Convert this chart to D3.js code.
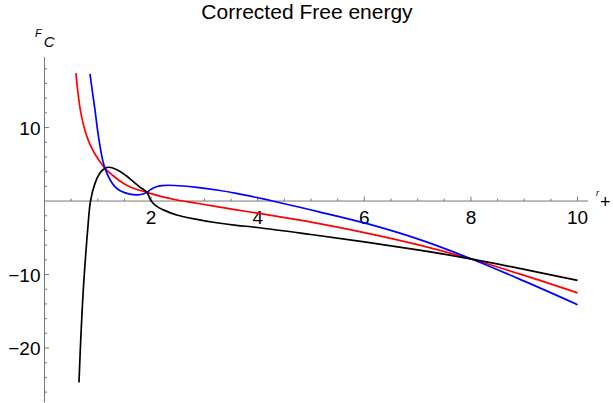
<!DOCTYPE html>
<html>
<head>
<meta charset="utf-8">
<script src="https://cdn.jsdelivr.net/npm/d3@7"></script>
<style>
  body { margin: 0; background: #fff; }
  text { font-family: "Liberation Sans", Arial, sans-serif; }
</style>
</head>
<body>
<div id="chart"></div>
<script>
// values
const redX = [0.59, 0.63, 0.67, 0.73, 0.79, 0.86, 0.93, 1.0, 1.135, 1.28, 1.42, 1.6, 1.92, 2.2, 2.48, 2.86, 3.6, 4.0, 4.79, 5.0, 6.0, 7.0, 8.0, 9.0, 10.0];
const redY = [17.4, 14.6, 12.5, 10.4, 8.9, 7.6, 6.6, 5.8, 4.45, 3.5, 2.7, 1.95, 1.18, 0.6, 0.14, -0.3, -1.2, -1.65, -2.6, -2.87, -4.29, -5.94, -7.89, -10.12, -12.5];

const blueX = [0.854, 0.9, 0.947, 1.0, 1.05, 1.09, 1.135, 1.23, 1.32, 1.42, 1.6, 1.75, 1.85, 1.92, 2.0, 2.1, 2.2, 2.32, 2.6, 2.86, 3.23, 3.6, 4.0, 4.28, 4.79, 5.17, 6.0, 7.0, 8.0, 9.0, 10.0];
const blueY = [17.3, 14.8, 12.4, 9.4, 7.1, 5.6, 4.45, 2.9, 1.95, 1.4, 0.95, 0.85, 0.95, 1.18, 1.6, 1.95, 2.1, 2.15, 2.05, 1.86, 1.5, 1.05, 0.45, 0.0, -0.85, -1.5, -2.98, -5.15, -7.85, -10.9, -14.1];

const blackX = [0.647, 0.67, 0.70, 0.73, 0.77, 0.81, 0.863, 0.947, 1.04, 1.135, 1.2, 1.35, 1.54, 1.67, 1.79, 1.92, 2.0, 2.1, 2.23, 2.48, 2.86, 3.23, 3.6, 4.0, 5.0, 6.0, 7.0, 8.0, 9.0, 10.0];
const blackY = [-24.7, -20.5, -15.8, -11.8, -7.6, -3.9, 0.0, 2.4, 3.8, 4.45, 4.6, 4.3, 3.4, 2.6, 1.9, 1.18, 0.05, -0.7, -1.2, -1.9, -2.5, -2.95, -3.3, -3.6, -4.55, -5.55, -6.65, -7.88, -9.3, -10.8];

const xTicks = [2, 4, 6, 8, 10];
const yTicks = [-20, -10, 10];

var width = 613
var height = 403

var svg = d3.select("#chart")
  .append("svg")
    .attr("width", width)
    .attr("height", height)

var x = d3.scaleLinear().domain([0, 10.2]).range([44.5, 588.2])
var y = d3.scaleLinear().domain([-27.4, 19.6]).range([402.4, 57.0])

var axisColor = "#777"

// minor ticks every 0.5 on x, every 2 on y
var xMinor = d3.range(0.5, 10.01, 0.5).filter(v => xTicks.indexOf(v) < 0)
var yMinor = d3.range(-26, 19, 2).filter(v => yTicks.indexOf(v) < 0 && v !== 0)

// x axis
svg.append("line")
  .attr("x1", x(0)).attr("x2", x(10.2))
  .attr("y1", y(0)).attr("y2", y(0))
  .attr("stroke", axisColor).attr("stroke-width", 1)

svg.selectAll(".xminor")
  .data(xMinor)
  .enter().append("line")
  .attr("x1", d => x(d)).attr("x2", d => x(d))
  .attr("y1", y(0)).attr("y2", y(0) - 2.5)
  .attr("stroke", axisColor)

svg.selectAll(".xmajor")
  .data(xTicks)
  .enter().append("line")
  .attr("x1", d => x(d)).attr("x2", d => x(d))
  .attr("y1", y(0)).attr("y2", y(0) - 4.5)
  .attr("stroke", axisColor)

svg.selectAll(".xlab")
  .data(xTicks)
  .enter().append("text")
  .attr("x", d => x(d))
  .attr("y", y(0) + 22.5)
  .attr("text-anchor", "middle")
  .style("font-size", "19px")
  .text(d => d)

// y axis
svg.append("line")
  .attr("x1", x(0)).attr("x2", x(0))
  .attr("y1", y(19.6)).attr("y2", y(-27.4))
  .attr("stroke", axisColor).attr("stroke-width", 1)

svg.selectAll(".yminor")
  .data(yMinor)
  .enter().append("line")
  .attr("x1", x(0)).attr("x2", x(0) + 2.5)
  .attr("y1", d => y(d)).attr("y2", d => y(d))
  .attr("stroke", axisColor)

svg.selectAll(".ymajor")
  .data(yTicks)
  .enter().append("line")
  .attr("x1", x(0)).attr("x2", x(0) + 4.5)
  .attr("y1", d => y(d)).attr("y2", d => y(d))
  .attr("stroke", axisColor)

svg.selectAll(".ylab")
  .data(yTicks)
  .enter().append("text")
  .attr("x", x(0) - 4)
  .attr("y", d => y(d) + 7)
  .attr("text-anchor", "end")
  .style("font-size", "19px")
  .text(d => d < 0 ? "\u2212" + Math.abs(d) : d)

// axis labels
var fl = svg.append("text").attr("x", 35).attr("y", 37).style("font-style", "italic")
fl.append("tspan").style("font-size", "11px").text("F")
fl.append("tspan").attr("dx", 2).attr("dy", 10).style("font-size", "15px").text("C")

var rl = svg.append("text").attr("x", 596).attr("y", 196)
rl.append("tspan").style("font-size", "9px").style("font-style", "italic").text("r")
rl.append("tspan").attr("dx", 1).attr("dy", 12).style("font-size", "18px").text("+")

// title
svg.append("text")
  .attr("x", 307)
  .attr("y", 19)
  .attr("text-anchor", "middle")
  .style("font-size", "21px")
  .text("Corrected Free energy")

// curves
var line = d3.line()
  .x(d => x(d[0]))
  .y(d => y(d[1]))
  .curve(d3.curveCatmullRom.alpha(0.5))

var series = [
  { xs: redX, ys: redY, color: "#ff0000" },
  { xs: blueX, ys: blueY, color: "#0000ff" },
  { xs: blackX, ys: blackY, color: "#000000" }
]

svg.selectAll(".curve")
  .data(series)
  .enter().append("path")
  .attr("d", s => line(s.xs.map((v, i) => [v, s.ys[i]])))
  .attr("fill", "none")
  .attr("stroke", s => s.color)
  .attr("stroke-width", 1.7)
</script>
</body>
</html>
